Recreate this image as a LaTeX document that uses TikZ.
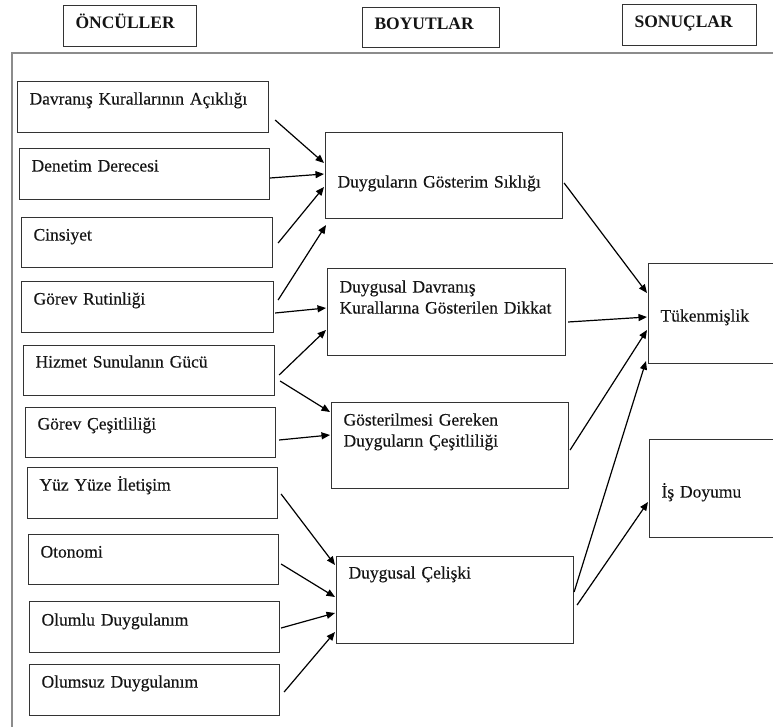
\documentclass[tikz,border=0pt]{standalone}
\usepackage{fontspec}
\setmainfont{Liberation Serif}
\newfontfamily\boxfont{Liberation Serif}[FakeBold=0.3]
\usetikzlibrary{arrows.meta}
\definecolor{boxline}{HTML}{333333}
\definecolor{frameline}{HTML}{8C8C8C}
\definecolor{ink}{HTML}{141414}
\tikzset{
  % box: {text width}{baseline below top}{depth below baseline}
  box/.style n args={3}{draw=boxline, line width=1.1pt, anchor=north west,
    inner xsep=12pt, inner ysep=0pt, align=left, text=ink,
    font=\boxfont\fontsize{17.5pt}{21pt}\selectfont,
    text width=#1pt, text height=#2pt, text depth=#3pt},
  headbox/.style n args={3}{box={#1}{#2}{#3},
    font=\bfseries\fontsize{17.5pt}{21pt}\selectfont},
  link/.style={-{Triangle[length=8.5pt,width=7pt]}, line width=1.2pt, black},
}
\begin{document}
\begin{tikzpicture}[x=1pt, y=-1pt]
\useasboundingbox (0,0) rectangle (773,727);
\begin{scope}
\clip (0,0) rectangle (773,727);

% outer frame (runs past the right and bottom edges)
\draw[frameline, line width=1.3pt] (12,790) |- (790,53);

% column headings
\node[headbox={109}{23}{18}] (h1) at (63,5) {ÖNCÜLLER};
\node[headbox={113}{22}{18}] (h2) at (362,7) {BOYUTLAR};
\node[headbox={110}{23}{18}] (h3) at (622,4) {SONUÇLAR};

% antecedents
\node[box={227}{23}{28}] (da) at (17,81)  {Davranış Kurallarının Açıklığı};
\node[box={226}{23}{28}] (dd) at (19,148) {Denetim Derecesi};
\node[box={227}{23}{27}] (ci) at (21,217) {Cinsiyet};
\node[box={228}{23}{28}] (gr) at (21,281) {Görev Rutinliği};
\node[box={227}{22}{28}] (hs) at (23,345) {Hizmet Sunulanın Gücü};
\node[box={226}{22}{28}] (gc) at (25,407) {Görev Çeşitliliği};
\node[box={226}{23}{28}] (yy) at (27,467) {Yüz Yüze İletişim};
\node[box={226}{23}{27}] (ot) at (28,534) {Otonomi};
\node[box={226}{24}{27}] (ol) at (29,601) {Olumlu Duygulanım};
\node[box={226}{23}{28}] (os) at (29,664) {Olumsuz Duygulanım};

% dimensions
\node[box={213}{55}{31}] (dgs) at (325,132) {Duyguların Gösterim Sıklığı};
\node[box={214}{24}{63}] (ddk) at (327,268) {Duygusal Davranış\\Kurallarına Gösterilen Dikkat};
\node[box={213}{23}{63}] (gg)  at (331,402) {Gösterilmesi Gereken\\Duyguların Çeşitliliği};
\node[box={213}{22}{65}] (ce)  at (336,556) {Duygusal Çelişki};

% outcomes
\node[box={136}{58}{42}] (tk) at (648,263) {Tükenmişlik};
\node[box={136}{58}{40}] (id) at (649,439) {İş Doyumu};

% antecedents -> dimensions
\draw[link] ([shift={(6,39)}]da.north east) -- ([shift={(-1,31)}]dgs.north west);
\draw[link] ([shift={(0,30)}]dd.north east) -- ([shift={(-1,42)}]dgs.north west);
\draw[link] ([shift={(5,26)}]ci.north east) -- ([shift={(-1,55)}]dgs.north west);
\draw[link] ([shift={(4,19)}]gr.north east) -- ([shift={(1,6)}]dgs.south west);
\draw[link] ([shift={(1,32)}]gr.north east) -- ([shift={(-1,40)}]ddk.north west);
\draw[link] ([shift={(4,30)}]hs.north east) -- ([shift={(-1,62)}]ddk.north west);
\draw[link] ([shift={(5,36)}]hs.north east) -- ([shift={(-1,10)}]gg.north west);
\draw[link] ([shift={(3,33)}]gc.north east) -- ([shift={(-1,33)}]gg.north west);
\draw[link] ([shift={(3,27)}]yy.north east) -- ([shift={(-1,9)}]ce.north west);
\draw[link] ([shift={(2,30)}]ot.north east) -- ([shift={(-1,41)}]ce.north west);
\draw[link] ([shift={(1,27)}]ol.north east) -- ([shift={(-1,57)}]ce.north west);
\draw[link] ([shift={(4,28)}]os.north east) -- ([shift={(-1,76)}]ce.north west);

% dimensions -> outcomes
\draw[link] ([shift={(1,51)}]dgs.north east) -- ([shift={(-1,30)}]tk.north west);
\draw[link] ([shift={(2,54)}]ddk.north east) -- ([shift={(-1,54)}]tk.north west);
\draw[link] ([shift={(1,48)}]gg.north east) -- ([shift={(-1,67)}]tk.north west);
\draw[link] ([shift={(0,36)}]ce.north east) -- ([shift={(-2,-3)}]tk.south west);
\draw[link] ([shift={(3,49)}]ce.north east) -- ([shift={(-1,63)}]id.north west);
\end{scope}
\end{tikzpicture}
\end{document}
